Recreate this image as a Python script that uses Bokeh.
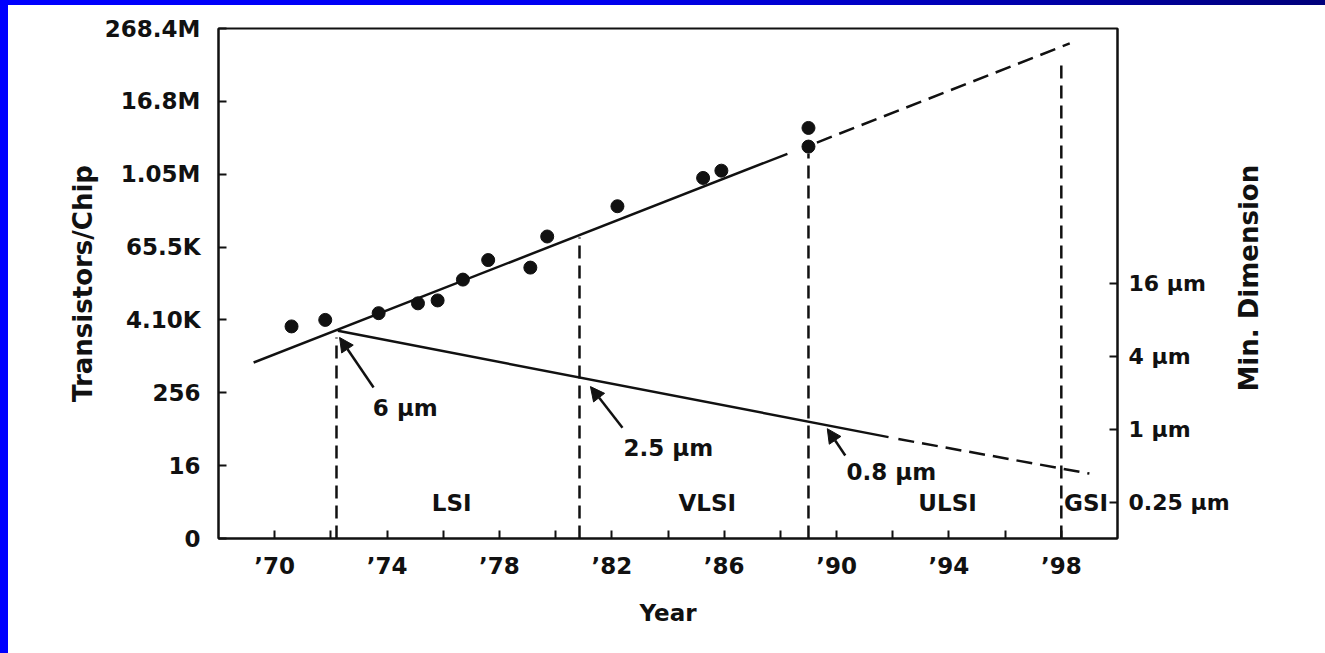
from bokeh.plotting import figure
from bokeh.models import (Range1d, LogScale, LogAxis, FixedTicker, Arrow,
                          NormalHead, Div)
from bokeh.layouts import column, row
from bokeh.core.properties import value
from bokeh.embed import file_html
from bokeh.resources import INLINE
import math

# Transistors per chip for individual devices
chip_years = [1970.6, 1971.8, 1973.7, 1975.1, 1975.8, 1976.7, 1977.6,
              1979.1, 1979.7, 1982.2, 1985.25, 1985.9, 1989.0, 1989.0]
chip_transistors = [3200, 4100, 5300, 7700, 8600, 19000, 40000,
                    30000, 98000, 310000, 910000, 1200000, 6100000, 3000000]

# Transistor-count trend and its projection
trend_years = [1969.25, 1988.25]
trend_transistors = [810, 2280000]
trend_proj_years = [1989.3, 1998.3]
trend_proj_transistors = [3500000, 152000000]

# Minimum feature size trend and its projection (micrometres)
dim_years = [1972.25, 1991.85]
dim_um = [6.5, 0.86]
dim_proj_years = [1992.2, 1999.0]
dim_proj_um = [0.83, 0.43]

# Integration-level boundaries
gen_years = [1972.2, 1980.85, 1989.0, 1998.0]
gen_tops = [2100, 94500, 2300000, 79000000]
feature_labels = ["6 μm", "2.5 μm", "0.8 μm"]
era_names = ["LSI", "VLSI", "ULSI", "GSI"]
era_years = [1976.3, 1985.4, 1993.95, 1998.1]

# Axis ticks
x_major_years = [1970, 1974, 1978, 1982, 1986, 1990, 1994, 1998]
x_minor_years = [1972, 1976, 1980, 1984, 1988, 1992, 1996]
x_tick_labels = ["’70", "’74", "’78", "’82", "’86", "’90", "’94", "’98"]
y_tick_values = [1, 16, 256, 4096, 65536, 1048576, 16777216, 268435456]
y_tick_labels = ["0", "16", "256", "4.10K", "65.5K", "1.05M", "16.8M", "268.4M"]
dim_tick_values = [0.25, 1, 4, 16]
dim_tick_labels = ["0.25 μm", "1 μm", "4 μm", "16 μm"]

INK = "#111111"
FONT = "DejaVu Sans"

p = figure(width=1225, height=648, output_backend="svg", toolbar_location=None,
           x_range=Range1d(1968, 2000), y_axis_type="log",
           y_range=Range1d(1, 2 ** 28),
           min_border_left=210, min_border_right=116,
           min_border_top=23, min_border_bottom=115)
p.background_fill_color = "white"
p.border_fill_color = "white"
p.outline_line_color = INK
p.outline_line_width = 2
p.xgrid.visible = False
p.ygrid.visible = False

p.extra_y_ranges = {"dim": Range1d(0.125, 2048)}
p.extra_y_scales = {"dim": LogScale()}
right_axis = LogAxis(y_range_name="dim")
p.add_layout(right_axis, "right")

p.xaxis.ticker = FixedTicker(ticks=x_major_years, minor_ticks=x_minor_years)
p.xaxis.major_label_overrides = dict(zip(x_major_years, x_tick_labels))
p.yaxis[0].ticker = FixedTicker(ticks=y_tick_values)
p.yaxis[0].major_label_overrides = dict(zip(y_tick_values, y_tick_labels))
right_axis.ticker = FixedTicker(ticks=dim_tick_values)
right_axis.major_label_overrides = dict(zip(dim_tick_values, dim_tick_labels))

p.xaxis.axis_label = "Year"
p.yaxis[0].axis_label = "Transistors/Chip"

for ax in p.xaxis + p.yaxis:
    ax.axis_line_color = INK
    ax.axis_line_width = 2
    ax.major_tick_line_color = INK
    ax.major_tick_line_width = 2
    ax.major_tick_in = 8
    ax.major_tick_out = 0
    ax.minor_tick_line_color = INK
    ax.minor_tick_line_width = 2
    ax.minor_tick_in = 8
    ax.minor_tick_out = 0
    ax.major_label_text_font = FONT
    ax.major_label_text_font_style = "bold"
    ax.major_label_text_font_size = "23px"
    ax.major_label_text_color = INK
    ax.axis_label_text_font = FONT
    ax.axis_label_text_font_style = "bold"
    ax.axis_label_text_color = INK

p.xaxis.major_label_standoff = 14
p.xaxis.axis_label_text_font_size = "23px"
p.xaxis.axis_label_standoff = 18
p.yaxis[0].major_label_standoff = 18
p.yaxis[0].axis_label_text_font_size = "26px"
p.yaxis[0].axis_label_standoff = 4
right_axis.major_label_standoff = 11
right_axis.major_label_text_font_size = "22px"

# Integration-level boundary lines
for gx, gt in zip(gen_years, gen_tops):
    p.line([gx, gx], [1, gt], line_color=INK, line_width=2.5, line_dash="13 7")

# Transistor-count trend
p.line(trend_years, trend_transistors, line_color=INK, line_width=2.5)
p.line(trend_proj_years, trend_proj_transistors, line_color=INK, line_width=2.5,
       line_dash="16 8")
p.scatter(chip_years, chip_transistors, size=13, color=INK)

# Feature size trend
p.line(dim_years, dim_um, y_range_name="dim", line_color=INK, line_width=2.5)
p.line(dim_proj_years, dim_proj_um, y_range_name="dim", line_color=INK,
       line_width=2.5, line_dash="16 8")

# Arrows pointing at the feature size of each generation
arrow_starts = [(1973.52, 2.21), (1982.38, 1.03), (1990.31, 0.606)]
arrow_tips = [(1972.31, 5.73), (1981.24, 2.25), (1989.67, 1.01)]
label_pos = [(1974.65, 1.51), (1984.01, 0.706), (1991.95, 0.44)]
for (sx, sy), (ex, ey) in zip(arrow_starts, arrow_tips):
    p.add_layout(Arrow(x_start=sx, y_start=sy, x_end=ex, y_end=ey,
                       y_range_name="dim", line_color=INK, line_width=2.5,
                       end=NormalHead(size=14, fill_color=INK, line_color=INK,
                                      line_width=1)))
p.text([lp[0] for lp in label_pos], [lp[1] for lp in label_pos],
       text=feature_labels, y_range_name="dim", text_align="center",
       text_baseline="middle", text_font=value(FONT), text_font_style="bold",
       text_font_size="23px", text_color=INK)

# Era names along the bottom
era_level = 3.8
p.text(era_years[:3], [era_level] * 3, text=era_names[:3], text_align="center",
       text_baseline="middle", text_font=value(FONT), text_font_style="bold",
       text_font_size="23px", text_color=INK)
p.text(era_years[3:], [era_level], text=era_names[3:], text_align="left",
       text_baseline="middle", text_font=value(FONT), text_font_style="bold",
       text_font_size="23px", text_color=INK)

# Narrow strip carrying the right-hand axis title, reading upwards.
# Its frame lines up with the main plot frame (510 px tall).
title_strip = figure(width=92, height=648, output_backend="svg",
                     toolbar_location=None, x_axis_location=None,
                     y_axis_location=None, x_range=Range1d(0, 92),
                     y_range=Range1d(0, 510), min_border=0)
title_strip.outline_line_color = None
title_strip.background_fill_color = "white"
title_strip.border_fill_color = "white"
title_strip.grid.visible = False
title_strip.text([15.5], [147], text=["Min. Dimension"], angle=math.pi / 2,
                 text_align="left", text_baseline="middle",
                 text_font=value(FONT), text_font_style="bold",
                 text_font_size="26px", text_color=INK)

top_bar = Div(text="", width=1325, height=5, margin=(0, 0, 0, 0),
              styles={"background": "linear-gradient(90deg, #0000ff 0%, #0000f0 45%, #00007a 100%)"})
left_bar = Div(text="", width=8, height=648, margin=(0, 0, 0, 0),
               styles={"background": "#0000ff"})
page = column(top_bar, row(left_bar, p, title_strip, spacing=0), spacing=0)

open("out.html", "w").write(file_html(page, INLINE))
